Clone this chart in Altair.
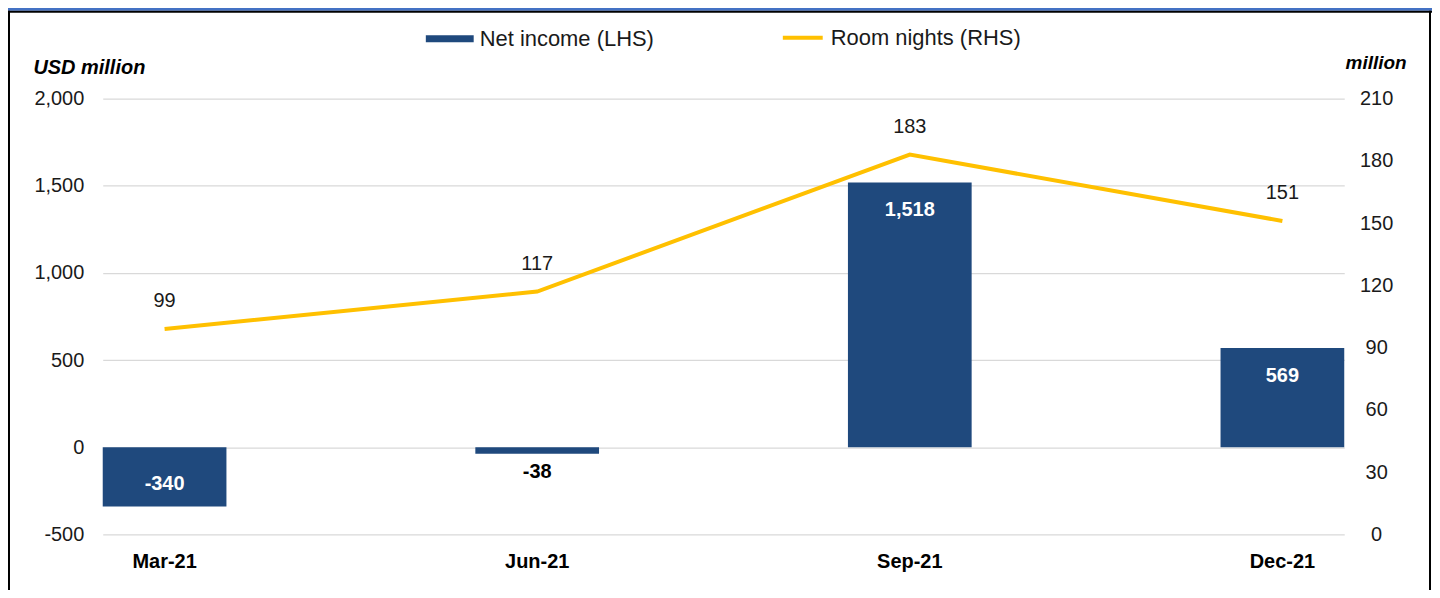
import altair as alt
import pandas as pd

quarters = ["Mar-21", "Jun-21", "Sep-21", "Dec-21"]
net_income = [-340, -38, 1518, 569]
room_nights = [99, 117, 183, 151]
bar_series = "Net income (LHS)"
line_series = "Room nights (RHS)"
left_ticks = [-500, 0, 500, 1000, 1500, 2000]
right_ticks = [0, 30, 60, 90, 120, 150, 180, 210]

df = pd.DataFrame({"q": quarters, "ni": net_income, "rn": room_nights,
                   "s1": bar_series, "s2": line_series})

FONT = "Liberation Sans"
FS = 20
W, H = 1245, 437
BLUE = "#1F497D"
GOLD = "#FFC000"
TXT = "#1a1a1a"

x_enc = alt.X("q:N", sort=quarters,
              scale=alt.Scale(paddingInner=0.668, paddingOuter=0),
              axis=alt.Axis(title=None, labelFont=FONT, labelFontSize=FS,
                            labelFontWeight="bold", labelColor="black",
                            labelPadding=17, domain=False, ticks=False,
                            labelAngle=0))

y_left_scale = alt.Scale(domain=[-500, 2000], nice=False, zero=False)
y_right_scale = alt.Scale(domain=[0, 210], nice=False, zero=False)

base = alt.Chart(df).transform_calculate(
    lab="replace(format(datum.ni, ',.0f'), '\u2212', '-')"
)

bars = base.mark_bar().encode(
    x=x_enc,
    y=alt.Y("ni:Q", scale=y_left_scale,
            axis=alt.Axis(values=left_ticks, format=",.0f", title="USD million",
                          titleAngle=0, titleX=-70, titleY=-25,
                          titleAlign="left", titleBaseline="alphabetic",
                          titleFont=FONT, titleFontSize=FS,
                          titleFontStyle="italic", titleFontWeight="bold",
                          titleColor="black",
                          labelExpr="replace(datum.label, '\u2212', '-')",
                          labelFont=FONT, labelFontSize=FS, labelColor=TXT,
                          grid=True, gridColor="#D9D9D9", gridWidth=1.2,
                          domain=False, ticks=False, labelPadding=19)),
    color=alt.Color("s1:N", scale=alt.Scale(domain=[bar_series], range=[BLUE]),
                    legend=alt.Legend(title=None, orient="none", legendX=324,
                                      legendY=-84, padding=0,
                                      symbolType="M-1,-0.146L1,-0.146L1,0.146L-1,0.146Z",
                                      symbolSize=2304, symbolStrokeWidth=0,
                                      symbolOpacity=1, labelFont=FONT,
                                      labelFontSize=22, labelColor=TXT,
                                      labelOffset=6, labelLimit=400)),
)

y_txt = alt.Y("ni:Q", scale=y_left_scale, axis=None)
txt_pos = base.transform_filter("datum.ni >= 0").mark_text(
    font=FONT, fontSize=FS, fontWeight="bold", color="white", dy=28,
    baseline="middle").encode(x=x_enc, y=y_txt, text="lab:N")
txt_neg_in = base.transform_filter("datum.ni < -100").mark_text(
    font=FONT, fontSize=FS, fontWeight="bold", color="white", dy=-22,
    baseline="middle").encode(x=x_enc, y=y_txt, text="lab:N")
txt_neg_out = base.transform_filter("datum.ni < 0 && datum.ni >= -100").mark_text(
    font=FONT, fontSize=FS, fontWeight="bold", color="black", dy=18,
    baseline="middle").encode(x=x_enc, y=y_txt, text="lab:N")

line = base.mark_line(strokeWidth=4).encode(
    x=x_enc,
    y=alt.Y("rn:Q", scale=y_right_scale,
            axis=alt.Axis(orient="right", values=right_ticks, title="million",
                          titleAngle=0, titleX=62, titleY=-30,
                          titleAlign="right", titleBaseline="alphabetic",
                          titleFont=FONT, titleFontSize=19,
                          titleFontStyle="italic", titleFontWeight="bold",
                          titleColor="black",
                          labelFont=FONT, labelFontSize=FS, labelColor=TXT,
                          labelAlign="center", grid=False, domain=False,
                          ticks=False, labelPadding=32)),
    color=alt.Color("s2:N", scale=alt.Scale(domain=[line_series], range=[GOLD]),
                    legend=alt.Legend(title=None, orient="none", legendX=680,
                                      legendY=-83, padding=0,
                                      symbolType="stroke", symbolSize=1600,
                                      symbolStrokeWidth=4, labelFont=FONT,
                                      labelFontSize=22, labelColor=TXT,
                                      labelOffset=6, labelLimit=400)),
)
line_txt = base.mark_text(font=FONT, fontSize=FS, color=TXT,
                          dy=-28, baseline="middle").encode(
    x=x_enc, y=alt.Y("rn:Q", scale=y_right_scale, axis=None), text="rn:Q")

deco_df = pd.DataFrame({"k": [0]})
header = alt.Chart(deco_df).mark_rect(color="#4472C4").encode(
    x=alt.value(-95), x2=alt.value(1335), y=alt.value(-92), y2=alt.value(-88))
top_line = alt.Chart(deco_df).mark_rect(color="black").encode(
    x=alt.value(-95), x2=alt.value(1335), y=alt.value(-88), y2=alt.value(-86))
left_border = alt.Chart(deco_df).mark_rect(color="black").encode(
    x=alt.value(-95), x2=alt.value(-93), y=alt.value(-88), y2=alt.value(500))
right_border = alt.Chart(deco_df).mark_rect(color="black").encode(
    x=alt.value(1330), x2=alt.value(1332), y=alt.value(-88), y2=alt.value(500))

chart = alt.layer(bars, txt_pos, txt_neg_in, txt_neg_out, line, line_txt,
                  header, top_line, left_border, right_border).resolve_scale(
    y="independent", color="independent"
).properties(
    width=W, height=H,
    background="white",
    autosize=alt.AutoSizeParams(type="none"),
    padding={"left": 95, "top": 90, "right": 88, "bottom": 55},
).configure_view(stroke=None)

chart.save("out.html", embed_options={"renderer": "svg", "actions": False})
